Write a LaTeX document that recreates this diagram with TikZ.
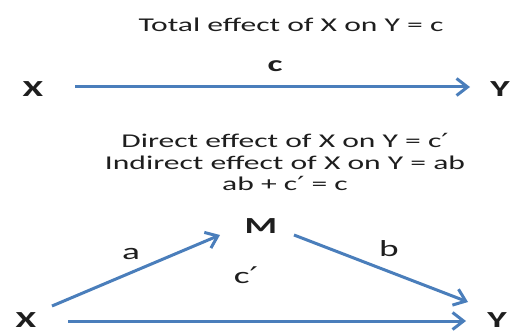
\documentclass[tikz,border=0pt]{standalone}
\usepackage{fontspec}
\setmainfont{Carlito}
\newfontfamily\primefont{DejaVu Sans}
\usetikzlibrary{arrows.meta}
\definecolor{arrblue}{RGB}{74,126,187}
\definecolor{txt}{RGB}{30,30,30}
\newcommand\pr{{\primefont\char"2032}}
\newcommand\wide[1]{\scalebox{1.62}[1]{#1}}
\begin{document}
\begin{tikzpicture}[x=1pt,y=-1pt,
  var/.style={font=\fontsize{23}{23}\selectfont\bfseries, text=txt, inner sep=0pt},
  lbl/.style={font=\fontsize{23}{23}\selectfont, text=txt, inner sep=0pt},
  eqn/.style={font=\fontsize{19.5}{21.5}\selectfont, text=txt, inner sep=0pt},
  arr/.style={draw=arrblue, line width=3pt, -{Straight Barb[length=11pt,width=17pt,line width=3pt]}}]
\useasboundingbox (0,0) rectangle (510,331);
% top diagram
\node[eqn] (title) at (291,25) {\wide{Total effect of X on Y = c}};
\node[var] (x1) at (33,89) {\wide{X}};
\node[var] (y1) at (500,89) {\wide{Y}};
\coordinate (x1e) at (75,87);
\coordinate (y1e) at (470,87);
\draw[arr] (x1e) -- (y1e);
\node[lbl, font=\fontsize{22}{22}\selectfont\bfseries] (c) at (275,66) {\wide{c}};
% bottom diagram
\node[eqn] (eqs) at (285,165) {\wide{\begin{tabular}{@{}c@{}}Direct effect of X on Y = c\pr\\Indirect effect of X on Y = ab\\ab + c\pr{} = c\end{tabular}}};
\node[var] (m) at (261,226) {\wide{M}};
\node[var] (x2) at (26,320) {\wide{X}};
\node[var] (y2) at (497,320) {\wide{Y}};
\coordinate (xa) at (52,306);
\coordinate (ma) at (220,235);
\coordinate (mb) at (294,235);
\coordinate (yb) at (468,302);
\coordinate (xc) at (68,321);
\coordinate (yc) at (466,321);
\draw[arr] (xa) -- (ma);
\draw[arr] (mb) -- (yb);
\draw[arr] (xc) -- (yc);
\node[lbl] (a) at (131,254) {\wide{a}};
\node[lbl] (b) at (389,249) {\wide{b}};
\node[lbl] (cp) at (246,275) {\wide{c\pr}};
\end{tikzpicture}
\end{document}
